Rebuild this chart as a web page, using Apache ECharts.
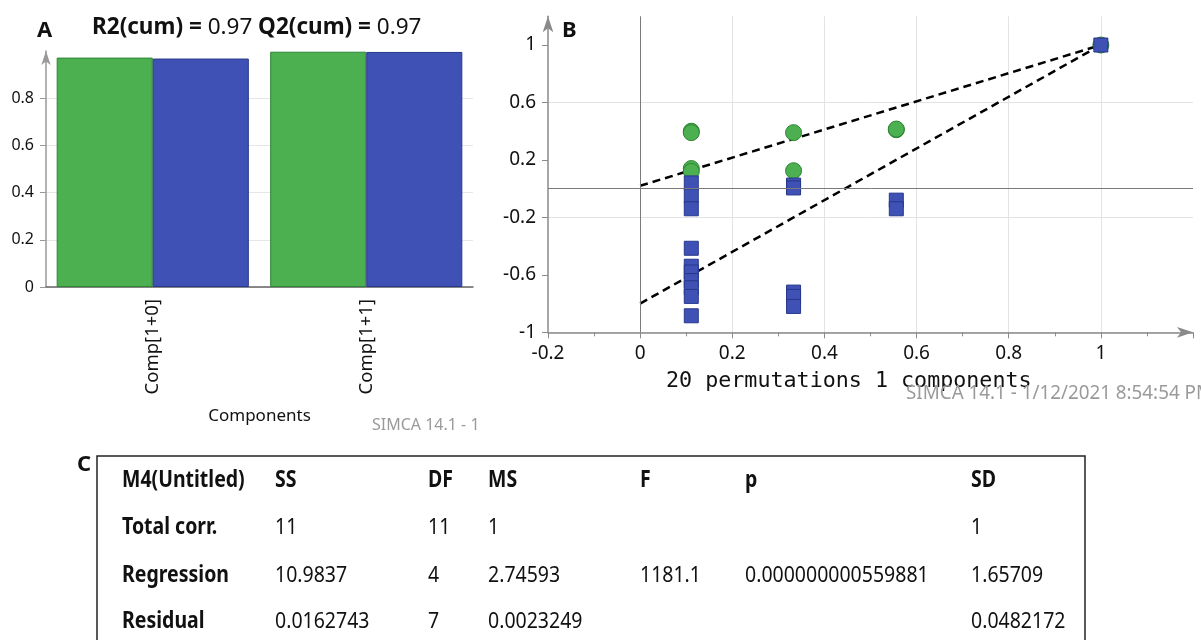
<!DOCTYPE html>
<html>
<head>
<meta charset="utf-8">
<script src="https://cdn.jsdelivr.net/npm/echarts@6/dist/echarts.min.js"></script>
<style>
  html, body { margin: 0; padding: 0; background: #fff; }
  #chart { width: 1201px; height: 640px; }
</style>
</head>
<body>
<div id="chart"></div>
<script>
// ---- Panel A: cumulative R2 / Q2 per component ----
const components = ['Comp[1+0]', 'Comp[1+1]'];
const r2cum = [0.972, 0.997];
const q2cum = [0.968, 0.996];
const r2cumText = '0.97';
const q2cumText = '0.97';

// ---- Panel B: permutation test, [correlation, value] ----
const r2Perm = [
  [0.111, 0.40], [0.111, 0.39], [0.111, 0.14], [0.111, 0.12],
  [0.333, 0.39], [0.333, 0.125],
  [0.556, 0.41], [0.556, 0.415],
  [1, 1]
];
const q2Perm = [
  [0.111, 0.04], [0.111, -0.05], [0.111, -0.14], [0.111, -0.415],
  [0.111, -0.54], [0.111, -0.58], [0.111, -0.64], [0.111, -0.69],
  [0.111, -0.75], [0.111, -0.885],
  [0.333, 0.025], [0.333, 0.005], [0.333, -0.72], [0.333, -0.75], [0.333, -0.82],
  [0.556, -0.08], [0.556, -0.14],
  [1, 1]
];
const r2Intercept = 0.02;
const q2Intercept = -0.80;
const permCaption = '20 permutations 1 components';

// ---- Panel C: ANOVA table ----
const tableHeader = ['M4(Untitled)', 'SS', 'DF', 'MS', 'F', 'p', 'SD'];
const tableRows = [
  ['Total corr.', '11', '11', '1', '', '', '1'],
  ['Regression', '10.9837', '4', '2.74593', '1181.1', '0.000000000559881', '1.65709'],
  ['Residual', '0.0162743', '7', '0.0023249', '', '', '0.0482172']
];

const GREEN = '#4caf50', GREEN_EDGE = '#2e8533';
const BLUE = '#3f51b5', BLUE_EDGE = '#27378c';
const FONT = '"Noto Sans", "Open Sans", sans-serif';

const chart = echarts.init(document.getElementById('chart'), null, { renderer: 'canvas' });

// table layout
const colX = [122, 275, 428, 488, 640, 745, 971];
const rowY = [481, 528, 576, 622];
const tableTexts = [];
[tableHeader].concat(tableRows).forEach((row, r) => {
  row.forEach((cell, c) => {
    if (!cell) return;
    tableTexts.push({
      type: 'text', x: colX[c], y: rowY[r], scaleY: 1.15, silent: true,
      style: {
        x: 0, y: 0, text: cell, fill: '#111',
        font: ((r === 0 || c === 0) ? 'bold 19.5px ' : '19.5px ') + FONT,
        textAlign: 'left', textVerticalAlign: 'middle'
      }
    });
  });
});

const fmt = v => String(parseFloat(v.toFixed(2)));

const option = {
  animation: false,
  backgroundColor: '#fff',
  grid: [
    { left: 46, top: 51, width: 427, height: 236 },
    { left: 548, top: 16.3, width: 645, height: 316 }
  ],
  xAxis: [
    {
      gridIndex: 0, type: 'category', data: components,
      axisLine: { lineStyle: { color: '#666', width: 1.5 } },
      axisTick: { alignWithLabel: true, length: 6, lineStyle: { color: '#888' } },
      axisLabel: { rotate: 90, margin: 12, color: '#111', fontSize: 18.5, fontFamily: FONT },
      name: 'Components', nameLocation: 'middle', nameGap: 121,
      nameTextStyle: { color: '#111', fontSize: 17, fontFamily: FONT }
    },
    {
      gridIndex: 1, type: 'value', min: -0.2, max: 1.2, interval: 0.2,
      axisLine: { onZero: false, symbol: ['none', 'arrow'], symbolSize: [8, 16], lineStyle: { color: '#8a8a8a', width: 1.5 } },
      axisTick: { length: 6, lineStyle: { color: '#8a8a8a' } },
      minorTick: { show: true, splitNumber: 2, length: 4, lineStyle: { color: '#8a8a8a' } },
      axisLabel: { showMaxLabel: false, margin: 12, color: '#111', fontSize: 19, fontFamily: FONT, formatter: fmt },
      splitLine: { show: true, showMinLine: false, showMaxLine: false, lineStyle: { color: '#e3e3e3' } }
    }
  ],
  yAxis: [
    {
      gridIndex: 0, type: 'value', min: 0, max: 1, interval: 0.2,
      axisLine: { show: true, symbol: ['none', 'arrow'], symbolSize: [7, 14], lineStyle: { color: '#999', width: 1.5 } },
      axisTick: { show: true, length: 6, lineStyle: { color: '#999' } },
      axisLabel: { showMaxLabel: false, margin: 12, color: '#111', fontSize: 16, fontFamily: FONT, formatter: fmt },
      splitLine: { show: true, showMaxLine: false, lineStyle: { color: '#e6e6e6' } }
    },
    {
      gridIndex: 1, type: 'value', min: -1, max: 1.2, interval: 0.2,
      axisLine: { show: true, onZero: false, symbol: ['none', 'arrow'], symbolSize: [8, 16], lineStyle: { color: '#8a8a8a', width: 1.5 } },
      axisTick: { show: true, length: 6, customValues: [-1, -0.6, -0.2, 0.2, 0.6, 1], lineStyle: { color: '#8a8a8a' } },
      axisLabel: {
        margin: 12, color: '#111', fontSize: 19, fontFamily: FONT,
        formatter: v => (Math.round((v + 1) / 0.2) % 2 === 0 && v < 1.1) ? fmt(v) : ''
      },
      splitLine: { show: true, showMaxLine: false, lineStyle: { color: ['#e3e3e3', 'rgba(0,0,0,0)'] } }
    }
  ],
  series: [
    {
      name: 'R2', type: 'bar', xAxisIndex: 0, yAxisIndex: 0, data: r2cum,
      barGap: '0%', barCategoryGap: '10%',
      itemStyle: { color: GREEN, borderColor: GREEN_EDGE, borderWidth: 1 }
    },
    {
      name: 'Q2', type: 'bar', xAxisIndex: 0, yAxisIndex: 0, data: q2cum,
      barGap: '0%', barCategoryGap: '10%',
      itemStyle: { color: BLUE, borderColor: BLUE_EDGE, borderWidth: 1 }
    },
    {
      name: 'R2 line', type: 'line', xAxisIndex: 1, yAxisIndex: 1, z: 2,
      data: [[0, r2Intercept], [1, 1]], symbol: 'none',
      lineStyle: { color: '#000', width: 2.5, type: [8, 5] },
      markLine: {
        silent: true, symbol: 'none', label: { show: false },
        lineStyle: { color: '#7a7a7a', width: 1, type: 'solid' },
        data: [{ yAxis: 0 }, { xAxis: 0 }]
      }
    },
    {
      name: 'Q2 line', type: 'line', xAxisIndex: 1, yAxisIndex: 1, z: 2,
      data: [[0, q2Intercept], [1, 1]], symbol: 'none',
      lineStyle: { color: '#000', width: 2.5, type: [8, 5] }
    },
    {
      name: 'R2 perm', type: 'scatter', xAxisIndex: 1, yAxisIndex: 1, z: 3,
      data: r2Perm, symbol: 'circle', symbolSize: 16,
      itemStyle: { color: GREEN, borderColor: GREEN_EDGE, borderWidth: 1, opacity: 1 }
    },
    {
      name: 'Q2 perm', type: 'scatter', xAxisIndex: 1, yAxisIndex: 1, z: 4,
      data: q2Perm, symbol: 'rect', symbolSize: 14,
      itemStyle: { color: BLUE, borderColor: BLUE_EDGE, borderWidth: 1, opacity: 1 }
    }
  ],
  graphic: [
    { type: 'text', left: 37, top: 20, silent: true,
      style: { text: 'A', fill: '#111', font: 'bold 22px ' + FONT } },
    { type: 'text', x: 92, y: 28, silent: true,
      style: {
        x: 0, y: 0, textVerticalAlign: 'middle',
        text: '{b|R2(cum) =} {r|' + r2cumText + '} {b|Q2(cum) =} {r|' + q2cumText + '}',
        font: '22.5px ' + FONT, fill: '#111',
        rich: {
          b: { fontWeight: 'bold', fontSize: 22.5, fontFamily: FONT, fill: '#111' },
          r: { fontSize: 22.5, fontFamily: FONT, fill: '#111' }
        }
      } },
    { type: 'text', left: 562, top: 20, silent: true,
      style: { text: 'B', fill: '#111', font: 'bold 22px ' + FONT } },
    { type: 'text', left: 77, top: 454, silent: true,
      style: { text: 'C', fill: '#111', font: 'bold 22px ' + FONT } },
    { type: 'text', x: 372, y: 425, silent: true,
      style: { x: 0, y: 0, text: 'SIMCA 14.1 - 1', fill: '#9a9a9a', font: '16px ' + FONT, textVerticalAlign: 'middle' } },
    { type: 'text', x: 666, y: 381, silent: true,
      style: { x: 0, y: 0, text: permCaption, fill: '#111', font: '21.7px "DejaVu Sans Mono", "Liberation Mono", monospace', textVerticalAlign: 'middle' } },
    { type: 'text', x: 906, y: 393, scaleX: 0.94, silent: true,
      style: { x: 0, y: 0, text: 'SIMCA 14.1 - 1/12/2021 8:54:54 PM', fill: '#9a9a9a', font: '20px ' + FONT, textVerticalAlign: 'middle' } },
    { type: 'rect', silent: true,
      shape: { x: 97, y: 456, width: 988, height: 220 },
      style: { fill: 'none', stroke: '#222', lineWidth: 1.5 } }
  ].concat(tableTexts)
};

chart.setOption(option);
</script>
</body>
</html>
